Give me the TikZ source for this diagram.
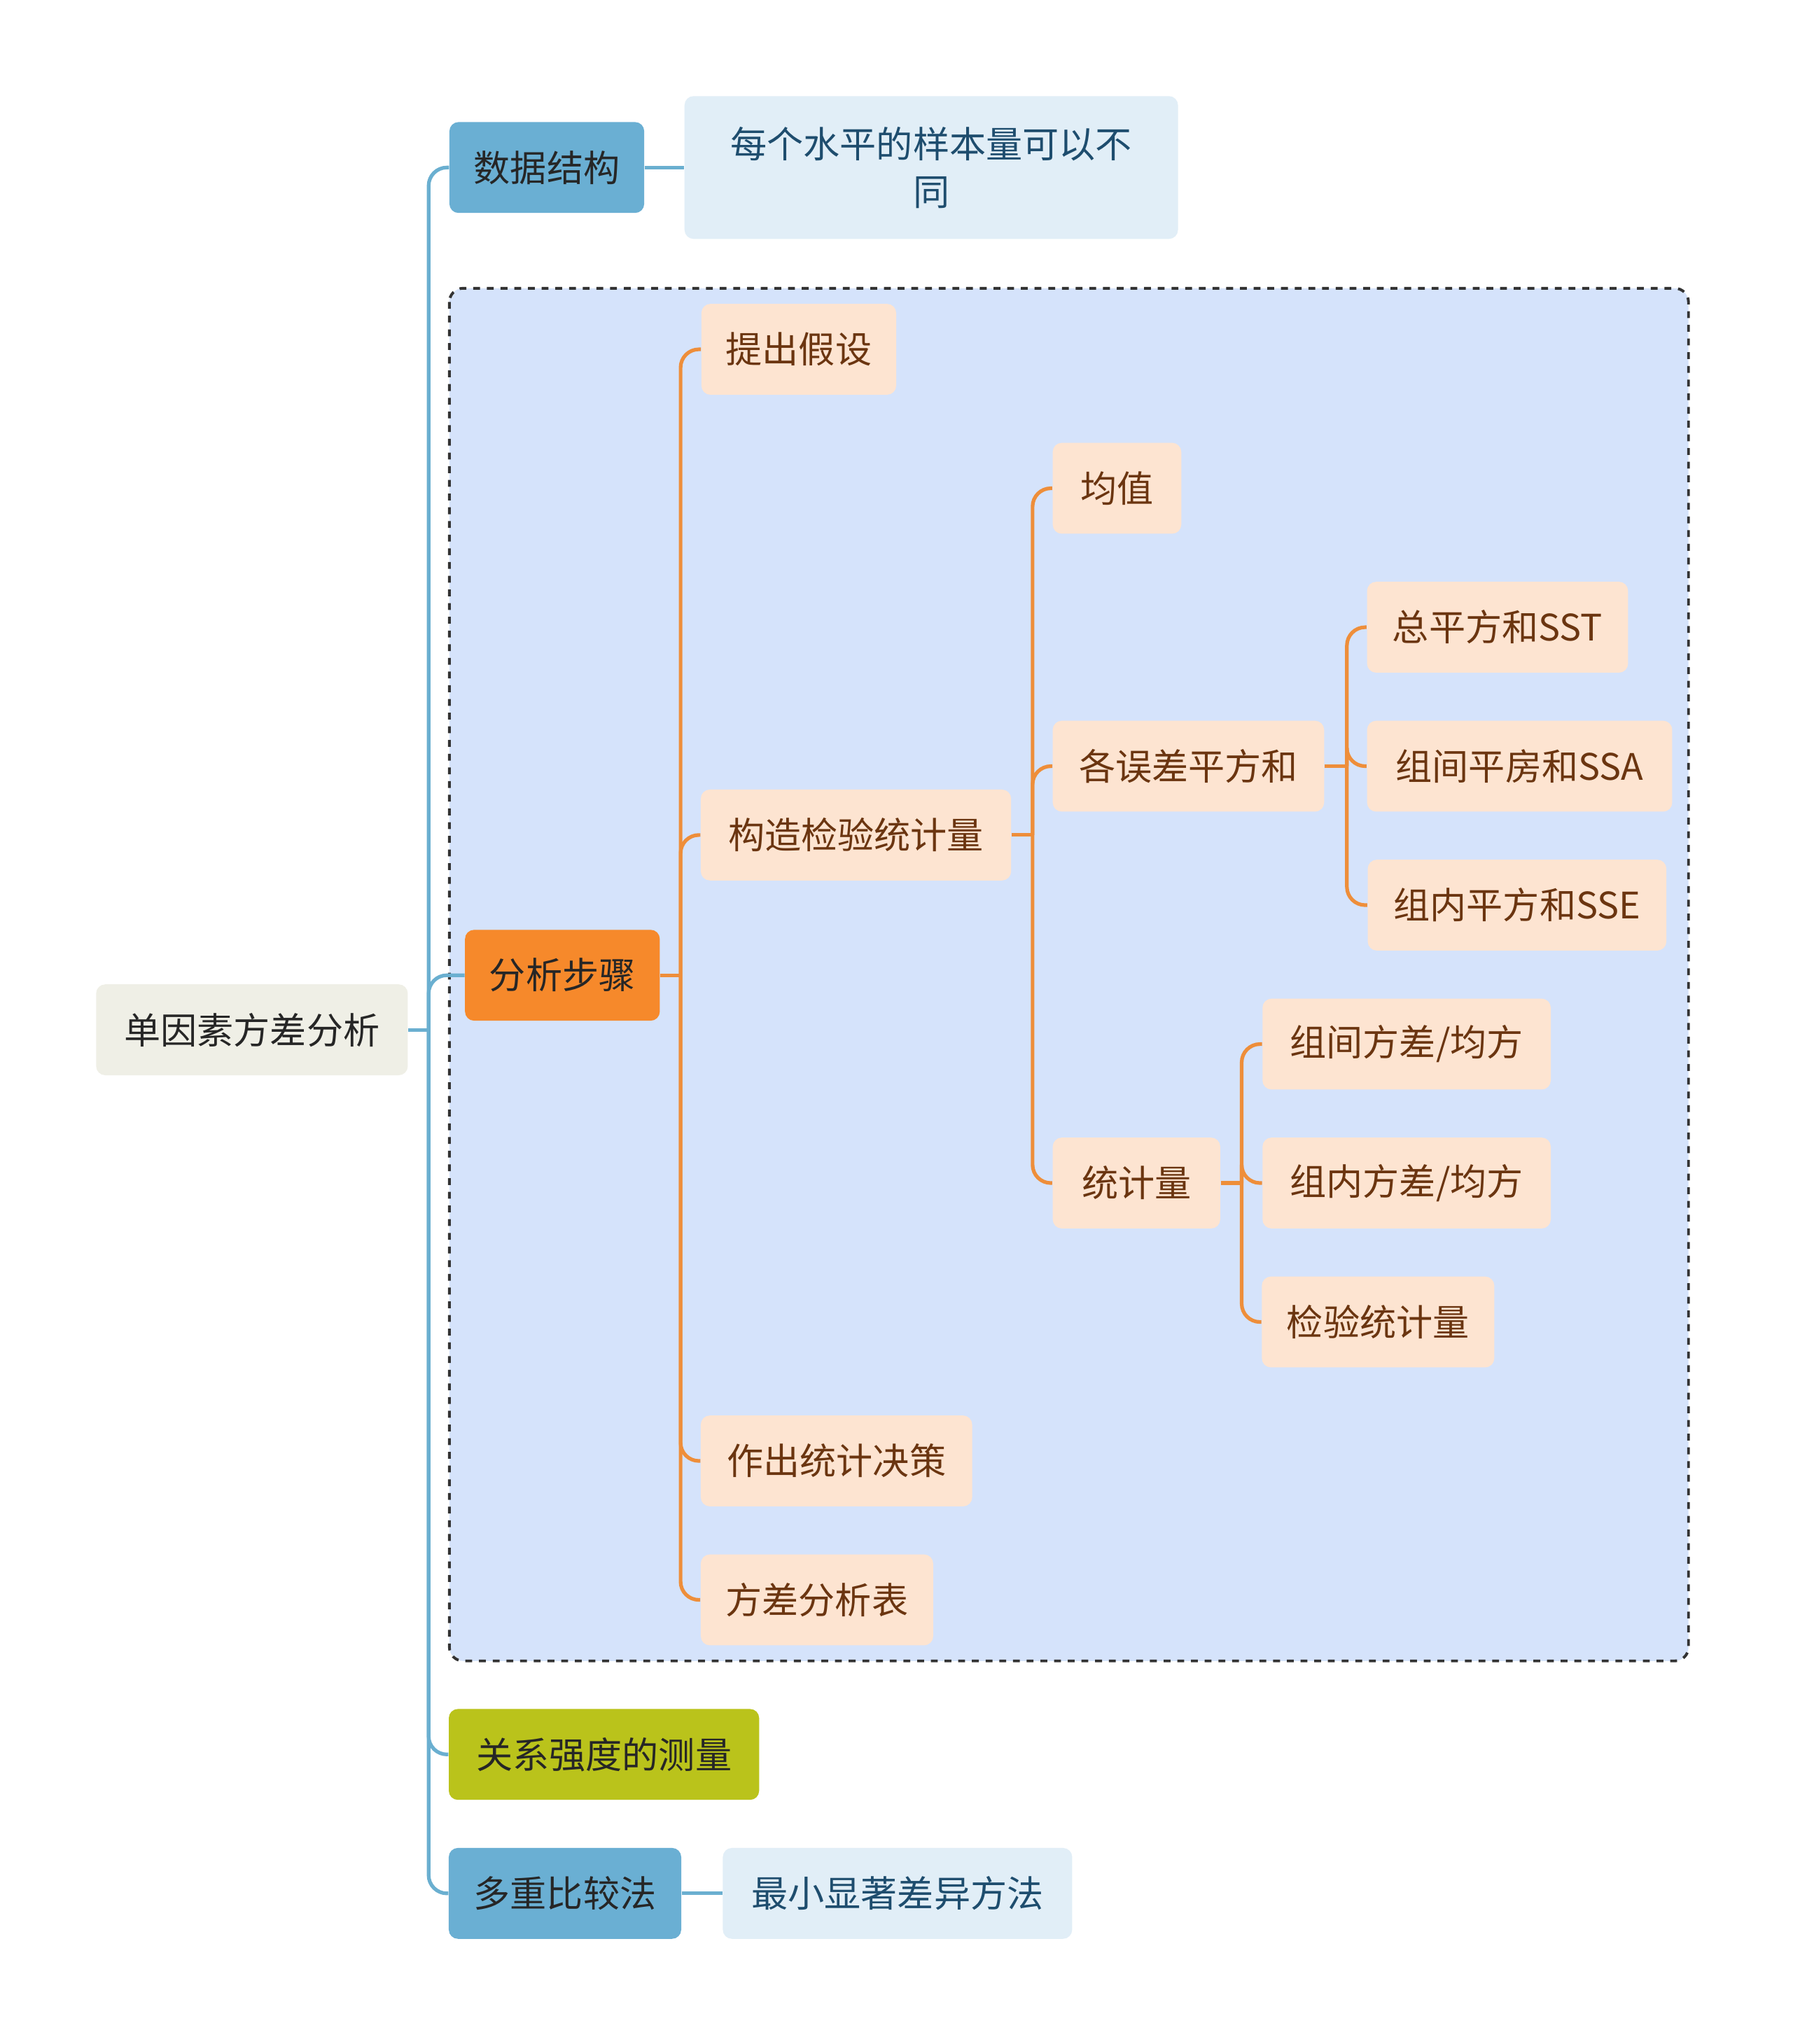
\documentclass[tikz,border=0pt]{standalone}
\usepackage{fontspec}
\setmainfont{Noto Sans CJK SC}
\usetikzlibrary{positioning}
\definecolor{rootfill}{HTML}{EFEFE6}
\definecolor{bluefill}{HTML}{6AAFD3}
\definecolor{paleblue}{HTML}{E1EEF7}
\definecolor{areafill}{HTML}{D5E3FB}
\definecolor{orangefill}{HTML}{F6892B}
\definecolor{peach}{HTML}{FDE4D1}
\definecolor{olive}{HTML}{BAC31B}
\definecolor{bline}{HTML}{6AAFD0}
\definecolor{oline}{HTML}{EE8E3A}
\definecolor{brown}{HTML}{6B3510}
\definecolor{navy}{HTML}{1E4D6E}
\tikzset{
  box/.style={rounded corners=4pt,minimum height=1.4cm,inner sep=0pt,font=\fontsize{16}{21}\selectfont,text=black!85},
  rootbox/.style={box,fill=rootfill},
  topbox/.style={box,fill=bluefill},
  notebox/.style={box,fill=paleblue,text=navy},
  stepbox/.style={box,fill=orangefill},
  leafbox/.style={box,fill=peach,text=brown},
  bedge/.style={draw=bline,line width=1.6pt,rounded corners=8pt},
  oedge/.style={draw=oline,line width=1.6pt,rounded corners=8pt},
}
\begin{document}
\begin{tikzpicture}[x=0.02cm,y=-0.02cm]
\useasboundingbox (0,0) rectangle (1380,1574);
\fill[white] (0,0) rectangle (1380,1574);
% analysis area
\draw[fill=areafill,dashed,line width=1.2pt,draw=black!80,rounded corners=6pt] (346,222) rectangle (1300,1279);
% main nodes
\node[rootbox,minimum width=4.8cm] (root) at (194,793) {单因素方差分析};
\node[topbox,minimum width=3cm] (data) at (421,129) {数据结构};
\node[notebox,minimum width=7.6cm,minimum height=2.2cm,align=center] (dnote) at (717,129) {每个水平的样本量可以不\\同};
\node[stepbox,minimum width=3cm] (steps) at (433,751) {分析步骤};
\node[box,fill=olive,minimum width=4.78cm] (strength) at (465,1351) {关系强度的测量};
\node[topbox,minimum width=3.58cm] (multi) at (435,1458) {多重比较法};
\node[notebox,minimum width=5.38cm] (lsd) at (691,1458) {最小显著差异方法};
% steps
\node[leafbox,minimum width=3cm] (hyp) at (615,269) {提出假设};
\node[leafbox,minimum width=4.78cm] (build) at (659,643) {构造检验统计量};
\node[leafbox,minimum width=4.18cm] (decide) at (644,1125) {作出统计决策};
\node[leafbox,minimum width=3.58cm] (table) at (629,1232) {方差分析表};
\node[leafbox,minimum width=1.98cm] (mean) at (860,376) {均值};
\node[leafbox,minimum width=4.18cm] (ss) at (915,590) {各误差平方和};
\node[leafbox,minimum width=2.58cm] (stat) at (875,911) {统计量};
\node[leafbox,minimum width=4.02cm] (sst) at (1153,483) {总平方和SST};
\node[leafbox,minimum width=4.7cm] (ssa) at (1170,590) {组间平房和SSA};
\node[leafbox,minimum width=4.6cm] (sse) at (1168,697) {组内平方和SSE};
\node[leafbox,minimum width=4.44cm] (msa) at (1083,804) {组间方差/均方};
\node[leafbox,minimum width=4.44cm] (mse) at (1083,911) {组内方差/均方};
\node[leafbox,minimum width=3.58cm] (ftest) at (1061,1018) {检验统计量};
% connectors
\coordinate (rj) at (330,793);
\draw[bedge] (root.east) -- (rj);
\foreach \t in {data,steps,strength,multi}
  \draw[bedge] (rj) |- (\t.west);
\draw[bedge] (data.east) -- (dnote.west);
\draw[bedge] (multi.east) -- (lsd.west);
\coordinate (sj) at (524,751);
\draw[oedge] (steps.east) -- (sj);
\foreach \t in {hyp,build,decide,table}
  \draw[oedge] (sj) |- (\t.west);
\coordinate (bj) at (795,643);
\draw[oedge] (build.east) -- (bj);
\foreach \t in {mean,ss,stat}
  \draw[oedge] (bj) |- (\t.west);
\coordinate (ssj) at (1037,590);
\draw[oedge] (ss.east) -- (ssj);
\foreach \t in {sst,ssa,sse}
  \draw[oedge] (ssj) |- (\t.west);
\coordinate (stj) at (956,911);
\draw[oedge] (stat.east) -- (stj);
\foreach \t in {msa,mse,ftest}
  \draw[oedge] (stj) |- (\t.west);
\end{tikzpicture}
\end{document}
